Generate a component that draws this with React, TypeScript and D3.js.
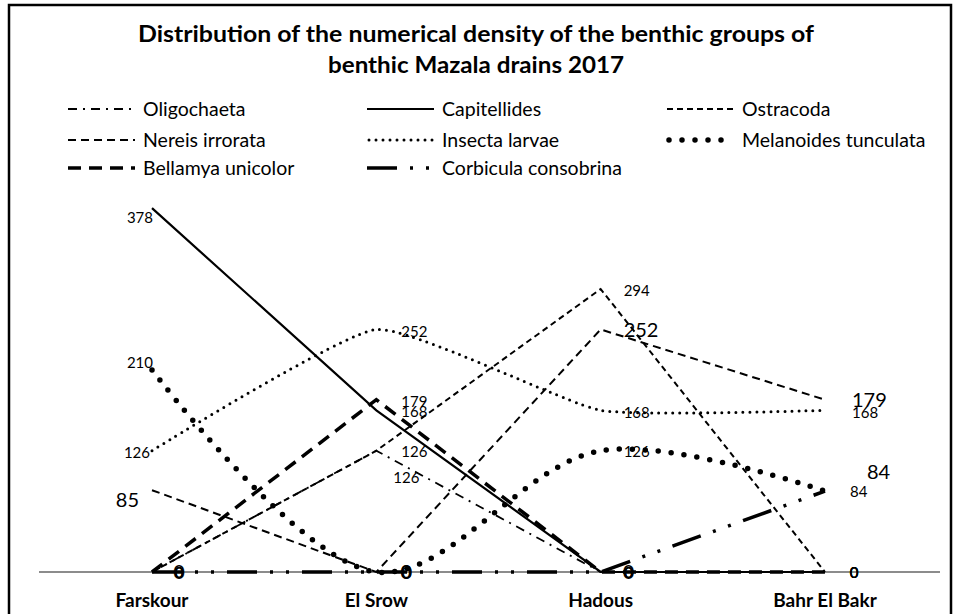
import React from "react";
import * as d3 from "d3";

// sampling sites and densities
const sites = ["Farskour", "El Srow", "Hadous", "Bahr El Bakr"];
const oligochaeta = [0, 126, 0, 0];
const capitellides = [378, 168, 0, 0];
const ostracoda = [0, 126, 294, 0];
const nereis = [85, 0, 252, 179];
const insecta = [126, 252, 168, 168];
const melanoides = [210, 0, 126, 84];
const bellamya = [0, 179, 0, 0];
const corbicula = [0, 0, 0, 84];

const title1 = "Distribution of the numerical density of the benthic groups of";
const title2 = "benthic Mazala drains 2017";

const width = 958;
const height = 614;
const font = "Lato, 'Open Sans', sans-serif";

const x = d3.scalePoint<string>().domain(sites).range([152, 825]);
const y = d3.scaleLinear().domain([0, 400]).range([572, 187]);

type Off = [number, number, string] | null;

const series = [
  { name: "Oligochaeta", values: oligochaeta, w: 1.8, dash: "9,6,2,6", cap: "butt", curve: d3.curveLinear, big: false,
    labels: [null, [17, 32, "start"], null, null] as Off[] },
  { name: "Capitellides", values: capitellides, w: 2.2, dash: "none", cap: "butt", curve: d3.curveLinear, big: false,
    labels: [[1, 15, "end"], [25, 7, "start"], null, null] as Off[] },
  { name: "Ostracoda", values: ostracoda, w: 2, dash: "6,4", cap: "butt", curve: d3.curveLinear, big: false,
    labels: [null, [25, 6, "start"], [23, 7, "start"], null] as Off[] },
  { name: "Nereis irrorata", values: nereis, w: 2, dash: "8,5", cap: "butt", curve: d3.curveLinear, big: true,
    labels: [[-13, 17, "end"], null, [23, 8, "start"], [27, 7, "start"]] as Off[] },
  { name: "Insecta larvae", values: insecta, w: 3, dash: "0,7", cap: "round", curve: d3.curveCardinal.tension(0.55), big: false,
    labels: [[-2, 7, "end"], [25, 8, "start"], [23, 8, "start"], [27, 8, "start"]] as Off[] },
  { name: "Melanoides tunculata", values: melanoides, w: 5.5, dash: "0,13", cap: "round", curve: d3.curveCatmullRom, big: false,
    labels: [[1, -2, "end"], null, [23, 6, "start"], [25, 6, "start"]] as Off[] },
  { name: "Bellamya unicolor", values: bellamya, w: 3.5, dash: "13,8", cap: "butt", curve: d3.curveLinear, big: false,
    labels: [null, [25, 7, "start"], null, null] as Off[] },
  { name: "Corbicula consobrina", values: corbicula, w: 3.5, dash: "30,13,3,13,3,13", cap: "butt", curve: d3.curveLinear, big: true,
    labels: [null, null, null, [42, -12, "start"]] as Off[] },
];

// "0" labels sit just right of each site on the axis
const zeroDx = [27, 30, 28, 29];

const legendCols = [68, 367, 667];
const legendRows = [109, 140, 168];

export default function App() {
  const line = (s: typeof series[number]) =>
    d3.line<number>()
      .x((_, i) => x(sites[i]) as number)
      .y(d => y(d))
      .curve(s.curve)(s.values) || "";

  return (
    <div style={{ position: "absolute", left: 0, top: 0 }}>
      <svg width={width} height={height} style={{ display: "block", background: "#fff" }}>
        <rect x={9} y={5} width={942} height={640} fill="#fff" stroke="#000" strokeWidth={2.5} />

        <text x={476} y={42} textAnchor="middle" fontFamily={font} fontWeight={700} fontSize={23}
          textLength={676} lengthAdjust="spacingAndGlyphs">{title1}</text>
        <text x={476} y={73} textAnchor="middle" fontFamily={font} fontWeight={700} fontSize={23}
          textLength={296} lengthAdjust="spacingAndGlyphs">{title2}</text>

        {series.map((s, i) => {
          const lx = legendCols[i % 3];
          const ly = legendRows[Math.floor(i / 3)];
          return (
            <g key={"lg" + s.name}>
              <line x1={lx + (s.cap === "round" ? 2 : 0)} x2={lx + 67} y1={ly} y2={ly} stroke="#000"
                strokeWidth={s.w} strokeDasharray={s.dash} strokeLinecap={s.cap as any} />
              <text x={lx + 75} y={ly + 7} fontFamily={font} fontSize={19.5}>{s.name}</text>
            </g>
          );
        })}

        <line x1={39} x2={940} y1={y(0)} y2={y(0)} stroke="#8c8c8c" strokeWidth={2} />

        {series.map(s => (
          <path key={"ln" + s.name} d={line(s)} fill="none" stroke="#000" strokeWidth={s.w}
            strokeDasharray={s.dash} strokeLinecap={s.cap as any} />
        ))}

        {series.map(s => s.values.map((v, i) => {
          const px = x(sites[i]) as number;
          const py = y(v);
          const size = s.big ? 20 : 15;
          if (v === 0) {
            return (
              <text key={s.name + i} x={px + zeroDx[i]} y={py + (s.big ? 7 : 6)} textAnchor="middle"
                fontFamily={font} fontSize={size}>0</text>
            );
          }
          const o = s.labels[i];
          if (!o) return null;
          return (
            <text key={s.name + i} x={px + o[0]} y={py + o[1]} textAnchor={o[2]}
              fontFamily={font} fontSize={size}>{v}</text>
          );
        }))}

        {sites.map(c => (
          <text key={c} x={x(c)} y={607} textAnchor="middle" fontFamily={font} fontWeight={700} fontSize={19}>{c}</text>
        ))}
      </svg>
    </div>
  );
}
